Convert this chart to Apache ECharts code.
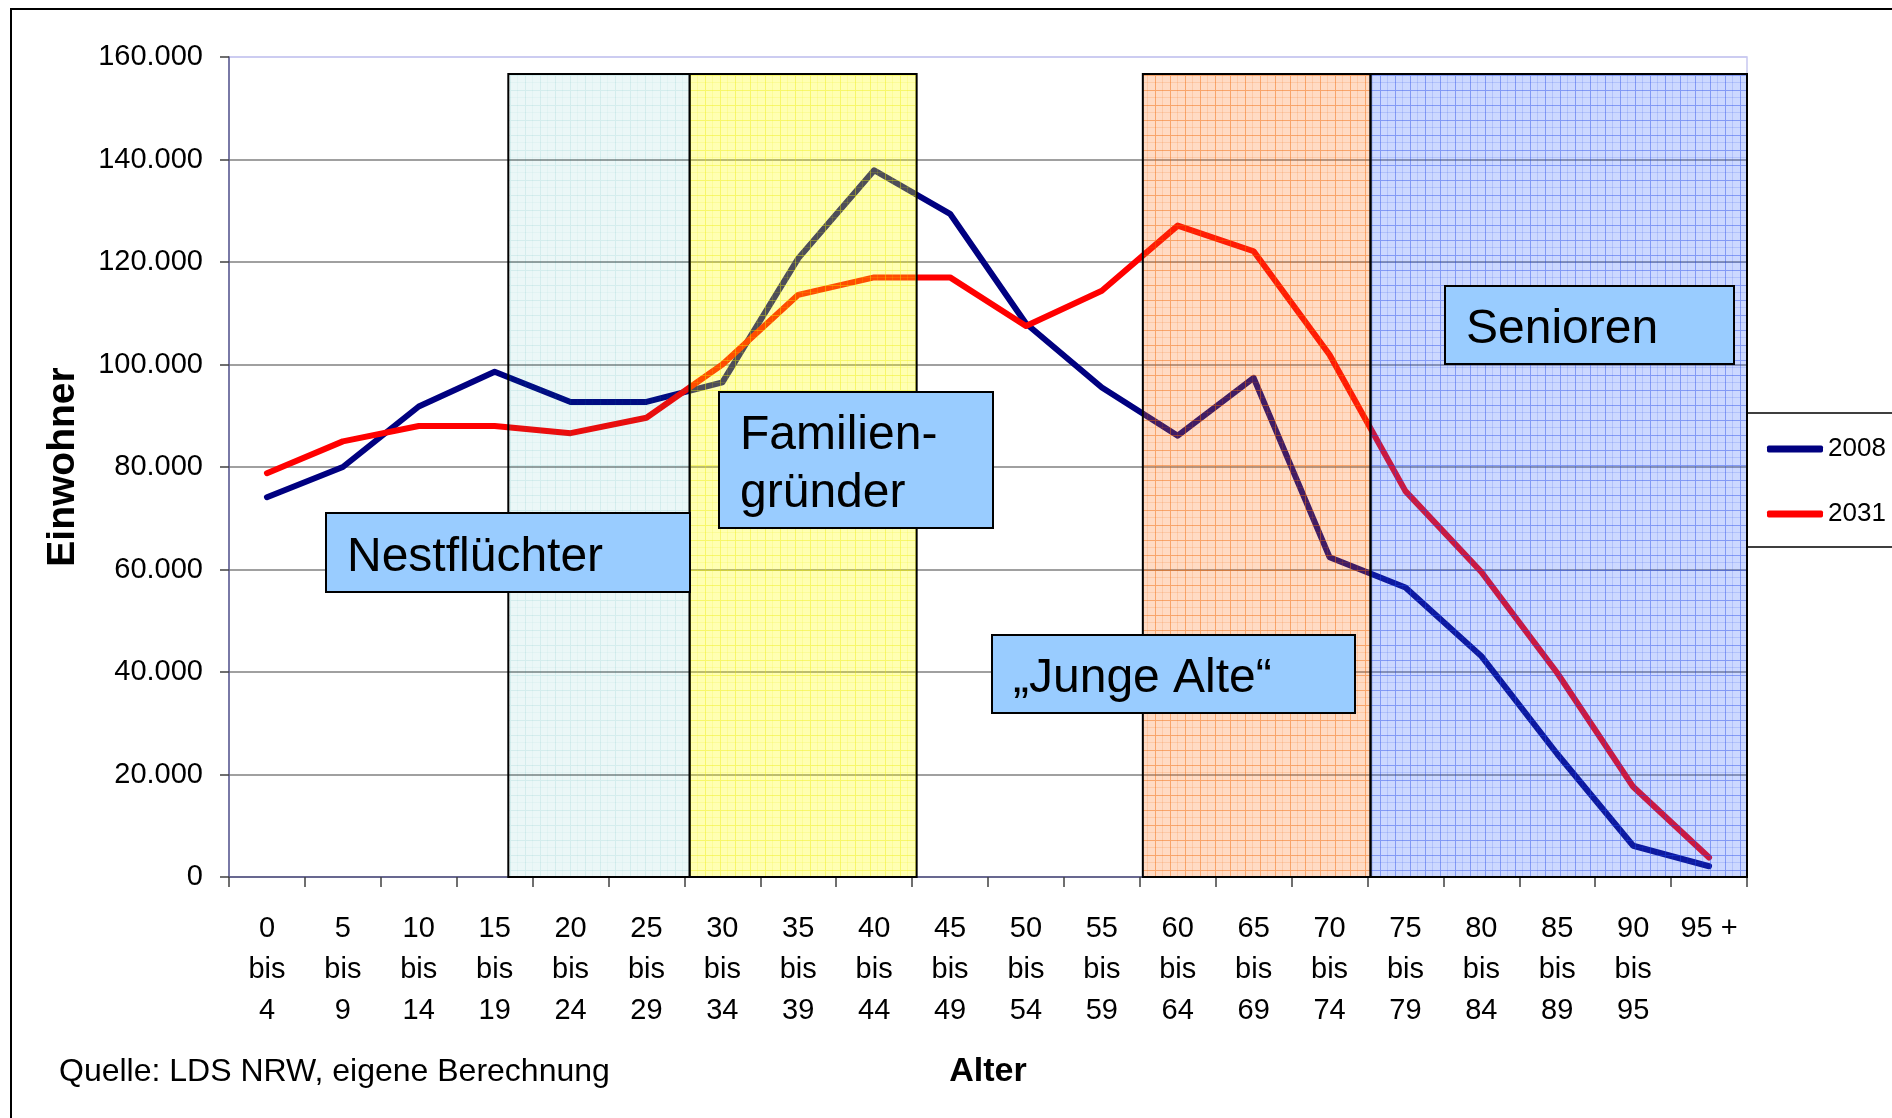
<!DOCTYPE html>
<html>
<head>
<meta charset="utf-8">
<script src="https://cdn.jsdelivr.net/npm/echarts@6/dist/echarts.min.js"></script>
<style>
  html, body { margin: 0; padding: 0; background: #fff; }
  #main { width: 1892px; height: 1118px; }
</style>
</head>
<body>
<div id="main"></div>
<script>
// Altersgruppen (x-Achse)
const ageGroups = ['0\nbis\n4', '5\nbis\n9', '10\nbis\n14', '15\nbis\n19', '20\nbis\n24',
  '25\nbis\n29', '30\nbis\n34', '35\nbis\n39', '40\nbis\n44', '45\nbis\n49',
  '50\nbis\n54', '55\nbis\n59', '60\nbis\n64', '65\nbis\n69', '70\nbis\n74',
  '75\nbis\n79', '80\nbis\n84', '85\nbis\n89', '90\nbis\n95', '95 +'];

// Einwohner je Altersgruppe
const pop2008 = [74100, 80000, 91800, 98600, 92700, 92700, 96500, 120700, 137900, 129400,
  108000, 95500, 86100, 97400, 62400, 56500, 43100, 24000, 6100, 2100];
const pop2031 = [78800, 85000, 88000, 88000, 86600, 89600, 100000, 113600, 117000, 117000,
  107500, 114400, 127100, 122100, 101900, 75300, 59500, 39800, 17600, 3800];

// Lebensphasen-Bereiche in Kategorie-Einheiten [von, bis]
const phaseNames = ['Nestflüchter', 'Familiengründer', 'Junge Alte', 'Senioren'];
const phaseFrom = [3.68, 6.07, 12.04, 15.04];
const phaseTo = [6.07, 9.06, 15.04, 20.02];
const phaseTop = 156700;

const yMin = 0, yMax = 160000, yStep = 20000;

function gridPattern(bg, major, minor) {
  const c = document.createElement('canvas');
  c.width = 15; c.height = 15;
  const g = c.getContext('2d');
  g.fillStyle = bg;
  g.fillRect(0, 0, 15, 15);
  g.fillStyle = minor;
  g.fillRect(7, 0, 1, 15);
  g.fillRect(0, 7, 15, 1);
  g.fillStyle = major;
  g.fillRect(0, 0, 1, 15);
  g.fillRect(1, 0, 14, 1);
  return c;
}

const patterns = [
  gridPattern('rgba(0,150,150,0.08)', 'rgba(0,150,150,0.10)', 'rgba(0,150,150,0.04)'),
  gridPattern('rgba(255,255,0,0.30)', 'rgba(235,235,0,0.40)', 'rgba(235,235,0,0.15)'),
  gridPattern('rgba(255,110,20,0.25)', 'rgba(240,100,0,0.45)', 'rgba(240,100,0,0.15)'),
  gridPattern('rgba(50,100,255,0.25)', 'rgba(30,70,230,0.42)', 'rgba(30,70,230,0.15)')
];

const areas = phaseFrom.map((from, i) => [
  {
    name: phaseNames[i],
    coord: [from, phaseTop],
    itemStyle: { color: { image: patterns[i], repeat: 'repeat' }, borderColor: '#000', borderWidth: 2 }
  },
  { coord: [phaseTo[i], yMin] }
]);

// Textfelder (Position in Pixeln)
function labelBox(x, y, w, h, lines) {
  return {
    type: 'group', z: 100,
    children: [
      { type: 'rect', z: 100, shape: { x: x, y: y, width: w, height: h },
        style: { fill: '#99ccff', stroke: '#000', lineWidth: 2 } },
      { type: 'text', z: 101, x: x + 21, y: y + h / 2 + 5,
        style: { text: lines, fill: '#000', font: '48px "Liberation Sans", Arial, sans-serif',
          verticalAlign: 'middle', lineHeight: 58 } }
    ]
  };
}

const chart = echarts.init(document.getElementById('main'), null, { renderer: 'canvas' });

const option = {
  animation: false,
  backgroundColor: '#fff',
  textStyle: { fontFamily: '"Liberation Sans", Arial, sans-serif', color: '#000' },
  grid: {
    left: 229, right: 145, top: 57, bottom: 241,
    show: true, borderColor: '#c8c8f0', borderWidth: 1.5, backgroundColor: 'transparent'
  },
  legend: {
    data: ['2008', '2031'],
    orient: 'vertical',
    left: 1767, top: 434,
    padding: 0,
    itemWidth: 56, itemHeight: 7, itemGap: 35,
    icon: 'roundRect',
    textStyle: { fontSize: 26, lineHeight: 30, color: '#000' }
  },
  xAxis: [{
    type: 'category',
    data: ageGroups,
    boundaryGap: true,
    name: 'Alter',
    nameLocation: 'middle',
    nameGap: 178,
    nameTextStyle: { fontSize: 34, fontWeight: 'bold', color: '#000' },
    axisLine: { lineStyle: { color: '#5a5a8c', width: 1.5 } },
    axisTick: { show: true, interval: 0, length: 10, lineStyle: { color: '#404040', width: 1.5 } },
    axisLabel: { interval: 0, fontSize: 29, lineHeight: 41, margin: 31, color: '#000' }
  }, {
    type: 'value', min: 0, max: 20, show: false
  }],
  yAxis: {
    type: 'value',
    min: yMin, max: yMax, interval: yStep,
    name: 'Einwohner',
    nameLocation: 'middle',
    nameRotate: 90,
    nameGap: 146,
    nameTextStyle: { fontSize: 39, fontWeight: 'bold', color: '#000' },
    axisLine: { show: true, lineStyle: { color: '#5a5a8c', width: 1.5 } },
    axisTick: { show: true, length: 9, lineStyle: { color: '#404040', width: 1.5 } },
    axisLabel: {
      fontSize: 29, margin: 26, color: '#000',
      formatter: v => v === 0 ? '0' : (v / 1000) + '.000'
    },
    splitLine: {
      show: true,
      lineStyle: { color: ['#808080', '#808080', '#808080', '#808080', '#808080', '#808080', '#808080', '#808080', '#c8c8f0'], width: 1.5 }
    }
  },
  series: [{
    name: '2008',
    type: 'line',
    data: pop2008,
    z: 2,
    showSymbol: false,
    color: '#000080',
    lineStyle: { width: 6, color: '#000080', cap: 'round', join: 'round' }
  }, {
    name: '2031',
    type: 'line',
    data: pop2031,
    z: 2,
    showSymbol: false,
    color: '#ff0000',
    lineStyle: { width: 6, color: '#ff0000', cap: 'round', join: 'round' }
  }, {
    name: 'Phasen',
    type: 'line',
    xAxisIndex: 1,
    data: [],
    z: 5,
    silent: true,
    markArea: { z: 5, silent: true, label: { show: false }, data: areas }
  }],
  graphic: [
    { type: 'rect', z: 0, shape: { x: 11, y: 9, width: 1900, height: 1200 },
      style: { fill: 'none', stroke: '#000', lineWidth: 2 } },
    { type: 'rect', z: 1, shape: { x: 1747, y: 413, width: 200, height: 134 },
      style: { fill: '#fff', stroke: '#000', lineWidth: 1.5 } },
    labelBox(326, 513, 364, 79, 'Nestflüchter'),
    labelBox(719, 392, 274, 136, 'Familien-\ngründer'),
    labelBox(992, 635, 363, 78, '\u201eJunge Alte\u201c'),
    labelBox(1445, 286, 289, 78, 'Senioren'),
    { type: 'text', z: 100, x: 59, y: 1072,
      style: { text: 'Quelle: LDS NRW, eigene Berechnung', fill: '#000', verticalAlign: 'middle',
        font: '32px "Liberation Sans", Arial, sans-serif' } }
  ]
};

chart.setOption(option);
</script>
</body>
</html>
